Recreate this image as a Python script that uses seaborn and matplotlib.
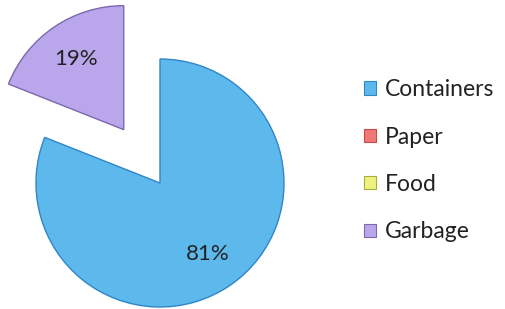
import matplotlib
matplotlib.use("Agg")
import matplotlib.pyplot as plt
import matplotlib.patches as mpatches
import seaborn as sns

# datos del gráfico
categorias = ["Containers", "Paper", "Food", "Garbage"]
valores = [81, 0, 0, 19]
colores = ["#5db8ec", "#f07878", "#eef27e", "#baa6ea"]
bordes = ["#2f86c8", "#c84a4a", "#a8ad3c", "#7d68b0"]

sns.set_theme(style="white")
plt.rcParams["font.family"] = ["Lato", "DejaVu Sans"]

fig = plt.figure(figsize=(5.05, 3.09), dpi=100)
ax = fig.add_axes([0, 0, 1, 1])

def etiqueta(p):
    # no mostrar las categorías con 0 %
    return f"{p:.0f}%" if p > 0.5 else ""

wedges, textos, autotextos = ax.pie(
    valores,
    colors=colores,
    startangle=90,
    counterclock=False,
    explode=[0, 0, 0, 0.52],
    autopct=etiqueta,
    pctdistance=0.69,
    wedgeprops=dict(linewidth=1.0),
    textprops=dict(fontsize=16, color="#222222"),
)
for w, b, v in zip(wedges, bordes, valores):
    w.set_edgecolor(b)
    if v == 0:
        w.set_linewidth(0)  # sin línea para las porciones vacías

# 1 unidad = 124 px
ax.set_xlim(-160 / 124, 345 / 124)
ax.set_ylim(-126 / 124, 183 / 124)
ax.set_aspect("equal")
ax.axis("off")

manijas = [mpatches.Patch(facecolor=c, edgecolor=b, linewidth=0.8, label=n)
           for c, b, n in zip(colores, bordes, categorias)]
fig.legend(
    handles=manijas,
    loc="center left",
    bbox_to_anchor=(0.703, 0.48),
    frameon=False,
    fontsize=16.5,
    handlelength=0.5,
    handleheight=0.5,
    handletextpad=0.4,
    labelspacing=1.15,
    labelcolor="#222222",
    borderaxespad=0,
)

fig.savefig("out.png", dpi=100)
